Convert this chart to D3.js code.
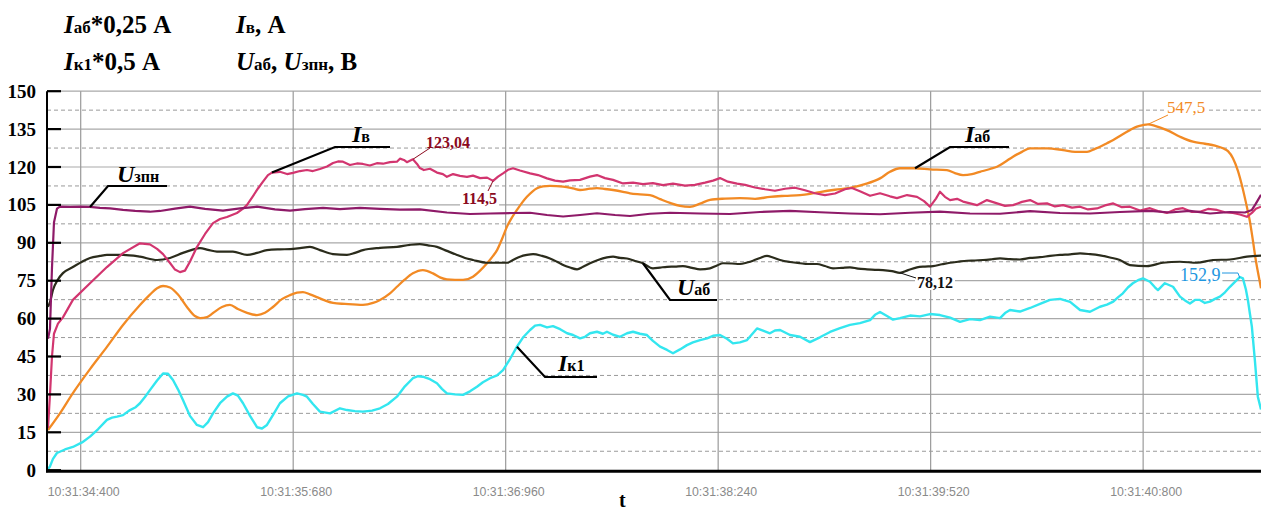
<!DOCTYPE html>
<html>
<head>
<meta charset="utf-8">
<script src="https://cdn.jsdelivr.net/npm/d3@7"></script>
<style>
  body { margin: 0; background: #fff; }
  svg { display: block; }
</style>
</head>
<body>
<svg id="chart" width="1261" height="512"></svg>
<script>
// Time in seconds after 10:31:00, values in chart units (A or V, scaled as the header says)
const tickTimes = [34.4, 35.68, 36.96, 38.24, 39.52, 40.8];
const tickLabels = ["10:31:34:400", "10:31:35:680", "10:31:36:960", "10:31:38:240", "10:31:39:520", "10:31:40:800"];
const yTicks = [0, 15, 30, 45, 60, 75, 90, 105, 120, 135, 150];

// U зпн, V
const uZpn = [
  [34.203,52],[34.215,56],[34.227,80],[34.239,98],[34.257,103.5],[34.275,104.3],[34.336,104.2],[34.396,104.3],
  [34.456,104.2],[34.516,103.8],[34.577,103.6],[34.655,103],[34.728,102.6],[34.817,102.3],[34.878,102.6],
  [34.968,103.5],[35.058,104.3],[35.149,103.4],[35.257,102.7],[35.360,103.6],[35.462,104.3],[35.570,103.2],
  [35.661,102.7],[35.751,103.3],[35.860,103.8],[35.962,103.3],[36.082,103.8],[36.203,103.4],[36.323,103.1],
  [36.443,103.2],[36.606,102],[36.745,101.4],[36.866,101.6],[37.004,101.8],[37.107,101.9],[37.209,101],
  [37.306,100.4],[37.408,101],[37.510,101.7],[37.619,101],[37.709,100.6],[37.829,101.5],[37.950,101.9],
  [38.131,101.6],[38.311,101.4],[38.492,102.2],[38.673,102.6],[38.853,102.1],[39.034,101.6],[39.215,101.3],
  [39.396,101.9],[39.576,102.3],[39.757,101.6],[39.938,101.5],[40.119,102.5],[40.299,101.8],[40.480,101.6],
  [40.660,102.2],[40.841,102.6],[40.961,102],[41.082,102.6],[41.203,101.6],[41.323,102.2],[41.413,102],
  [41.455,103],[41.479,105.5],[41.510,109]
];

// I в, A
const iV = [
  [34.203,16.7],[34.215,30],[34.227,45],[34.239,54],[34.263,58],[34.293,60.5],[34.353,67.4],[34.456,74],
  [34.558,80.4],[34.655,85.9],[34.757,89.8],[34.817,89.4],[34.860,87.6],[34.896,85.5],[34.938,82],[34.968,79.4],
  [34.998,78.4],[35.028,79],[35.058,82.5],[35.100,88.3],[35.149,93.5],[35.197,97.8],[35.239,99.4],[35.281,100.2],
  [35.341,101.8],[35.378,103.5],[35.402,105],[35.438,108.5],[35.468,111.5],[35.498,114.2],[35.528,116.8],
  [35.552,117.8],[35.600,118.1],[35.643,117.2],[35.679,117.7],[35.721,118.4],[35.763,118.8],[35.799,118.4],
  [35.841,119.2],[35.884,120.2],[35.920,121.6],[35.950,122.2],[35.980,122.1],[36.022,120.8],[36.064,121.4],
  [36.100,121.2],[36.142,120.6],[36.184,121.5],[36.221,121.3],[36.263,121.9],[36.305,122.1],[36.323,123.3],
  [36.347,122.8],[36.365,121.9],[36.401,123.04],[36.426,121.2],[36.443,119.6],[36.467,118.8],[36.504,119.3],
  [36.546,117.8],[36.582,117.2],[36.606,116.1],[36.643,117.2],[36.685,116.5],[36.727,116.1],[36.763,116.6],
  [36.806,115.6],[36.848,115.8],[36.884,114.5],[36.914,116.2],[36.944,117.5],[36.974,118.9],[37.004,119.5],
  [37.046,118.6],[37.107,117.5],[37.155,116.8],[37.209,115.5],[37.257,114.6],[37.306,114.2],[37.348,114.7],
  [37.408,114.9],[37.468,116.2],[37.510,116.8],[37.558,115.6],[37.607,114.9],[37.667,113.5],[37.727,113.8],
  [37.787,113.2],[37.847,113.6],[37.908,112.8],[37.968,113.4],[38.040,112.6],[38.100,112.9],[38.161,113.8],
  [38.209,114.6],[38.251,115.6],[38.299,114.2],[38.354,113.4],[38.402,112.9],[38.462,111.9],[38.522,111.2],
  [38.582,110.6],[38.643,111.4],[38.703,111.8],[38.763,110.8],[38.823,109.6],[38.883,108.9],[38.944,109.5],
  [39.004,111.2],[39.046,111.7],[39.094,110.4],[39.155,108.6],[39.215,109.6],[39.275,108.4],[39.317,107.7],
  [39.378,108.9],[39.438,108.2],[39.480,106.5],[39.516,104.3],[39.552,107.5],[39.576,110.2],[39.606,108.2],
  [39.637,106.9],[39.679,107.4],[39.715,106.3],[39.757,105.6],[39.799,104.9],[39.859,106.9],[39.920,105.6],
  [39.968,104.6],[40.016,104.9],[40.070,106.2],[40.119,106.9],[40.167,105.4],[40.221,105.6],[40.269,104.4],
  [40.318,104.9],[40.372,103.9],[40.420,104.3],[40.468,103.2],[40.522,103.6],[40.570,104.8],[40.620,105.6],
  [40.672,104.1],[40.720,104.3],[40.781,102.8],[40.841,103.7],[40.889,102.6],[40.943,101.8],[40.992,103.2],
  [41.040,103.7],[41.094,102.2],[41.142,102.3],[41.191,103.4],[41.245,103],[41.293,102.1],[41.341,101.8],
  [41.383,101.2],[41.425,100.3],[41.455,101.8],[41.479,103.5],[41.510,104.3]
];

// I аб × 0.25, A
const iAb = [
  [34.203,15.9],[34.275,22.5],[34.353,30.5],[34.456,40],[34.558,48.8],[34.655,57.5],[34.757,65.4],[34.817,69.5],
  [34.860,72],[34.896,72.9],[34.938,72.3],[34.986,69.5],[35.040,64.6],[35.088,61],[35.119,60.2],[35.161,60.6],
  [35.197,62.2],[35.251,64.6],[35.299,65.4],[35.347,63.8],[35.402,62.3],[35.462,61.4],[35.510,62.3],[35.558,64.6],
  [35.612,67.7],[35.661,69.3],[35.703,70.3],[35.739,70.5],[35.781,69.6],[35.823,68.5],[35.871,67.2],[35.920,66.2],
  [35.992,65.8],[36.100,65.4],[36.161,66.2],[36.203,67.4],[36.263,70],[36.305,72.6],[36.353,75.5],[36.401,77.9],
  [36.461,79.2],[36.522,77.9],[36.564,76.3],[36.606,75.5],[36.703,75.3],[36.763,76.6],[36.806,79],[36.848,81.9],
  [36.884,84.8],[36.908,87.1],[36.938,91.5],[36.968,96.4],[36.998,100],[37.028,103],[37.058,105.8],[37.088,108.2],
  [37.119,110.2],[37.149,111.6],[37.185,112.3],[37.227,112.5],[37.306,112.2],[37.366,111.5],[37.408,110.9],
  [37.468,111.4],[37.510,111.6],[37.558,111.3],[37.607,110.9],[37.667,110.2],[37.709,109.6],[37.769,109.2],
  [37.829,108.9],[37.890,107.3],[37.950,105.8],[38.010,104.6],[38.070,104.2],[38.131,105.5],[38.191,107],
  [38.281,107.5],[38.371,107.7],[38.462,107.4],[38.552,108.2],[38.643,108.6],[38.733,108.9],[38.793,109.4],
  [38.853,110.1],[38.944,111],[39.034,111.7],[39.124,113.2],[39.215,115.5],[39.275,118.1],[39.335,119.5],
  [39.426,119.5],[39.516,119.1],[39.618,118.8],[39.666,117.6],[39.715,116.8],[39.769,117.2],[39.817,118.1],
  [39.878,119.2],[39.920,120.1],[39.968,122],[40.016,124.1],[40.070,126],[40.119,127.4],[40.221,127.4],
  [40.318,126.7],[40.390,126],[40.462,126],[40.510,127.2],[40.540,128],[40.582,129.4],[40.620,130.7],
  [40.672,132.8],[40.720,134.6],[40.763,136],[40.799,136.6],[40.829,136.875],[40.871,136.3],[40.943,134.6],
  [41.022,132],[41.100,130],[41.172,129.2],[41.233,128.5],[41.281,127.4],[41.311,126.3],[41.341,123.5],
  [41.371,118.5],[41.395,112.8],[41.419,106],[41.443,98.5],[41.461,91],[41.479,83],[41.497,76.5],[41.510,72]
];

// U аб, V
const uAb = [
  [34.203,64.7],[34.215,66.5],[34.233,71.3],[34.263,75.5],[34.293,78],[34.353,80.4],[34.408,82.5],[34.456,84],
  [34.516,84.8],[34.558,85.2],[34.655,85.2],[34.757,84.5],[34.860,83.2],[34.938,84],[35.016,86],[35.070,87.2],
  [35.119,87.9],[35.167,87.2],[35.221,86.5],[35.317,86.5],[35.402,85.2],[35.462,86],[35.522,87.1],[35.600,87.4],
  [35.661,87.5],[35.721,87.9],[35.781,88.4],[35.841,87.1],[35.920,85.5],[36.004,85.2],[36.052,86],[36.100,87.1],
  [36.203,88],[36.305,88.4],[36.383,89.2],[36.443,89.5],[36.492,89],[36.546,88.4],[36.606,86.8],[36.667,85.2],
  [36.715,84],[36.763,83.2],[36.848,82.1],[36.926,82.1],[36.968,82.1],[37.004,83.2],[37.046,84.5],[37.088,85.2],
  [37.125,85.5],[37.179,84.8],[37.227,83.8],[37.269,82.5],[37.306,81.2],[37.348,80.2],[37.390,79.5],[37.426,80.5],
  [37.468,81.9],[37.516,83.2],[37.570,84.2],[37.607,84.5],[37.649,84],[37.691,83.8],[37.739,82.8],[37.787,81.9],
  [37.847,79.9],[37.890,80.2],[37.932,80.5],[37.980,80.6],[38.028,80.8],[38.082,80.1],[38.131,79.5],[38.191,79.9],
  [38.233,81],[38.269,81.9],[38.323,81.8],[38.371,81.6],[38.414,82.2],[38.450,82.9],[38.492,84],[38.534,84.8],
  [38.570,84.2],[38.613,83.2],[38.673,82.4],[38.733,81.9],[38.781,81.6],[38.835,81.6],[38.883,80.8],[38.932,79.9],
  [38.986,80.1],[39.034,80.3],[39.082,79.8],[39.137,79.5],[39.185,79.3],[39.233,79.2],[39.287,78.8],[39.335,78.12],
  [39.384,79.2],[39.438,80.3],[39.486,80.6],[39.534,80.8],[39.588,81.5],[39.637,82.1],[39.685,82.5],[39.739,82.9],
  [39.787,83],[39.835,83.2],[39.889,83.5],[39.938,83.8],[39.998,83.5],[40.058,83.4],[40.119,84],[40.179,84.3],
  [40.239,84.8],[40.299,85.2],[40.360,85.4],[40.420,85.8],[40.480,85.5],[40.540,85],[40.600,84.2],[40.660,83.2],
  [40.720,81.2],[40.823,80.8],[40.919,82.1],[41.022,82.5],[41.124,82.1],[41.221,83.2],[41.323,83.4],[41.425,84.5],
  [41.510,84.9]
];

// I к1 × 0.5, A
const iK1 = [
  [34.203,0.5],[34.215,1.5],[34.233,4.5],[34.257,6.8],[34.305,8.2],[34.353,9.2],[34.408,11],[34.456,13.3],
  [34.504,16.2],[34.558,19.9],[34.589,20.8],[34.619,21.2],[34.655,21.8],[34.697,23.8],[34.728,24.8],[34.757,26.5],
  [34.787,29],[34.817,31.7],[34.860,35.5],[34.896,38.3],[34.926,38.2],[34.956,35.7],[34.986,32],[35.016,27.8],
  [35.058,21.5],[35.100,17.9],[35.137,17],[35.167,19],[35.197,22.5],[35.239,26.5],[35.281,29.1],[35.317,30.4],
  [35.347,29.5],[35.378,26.5],[35.420,21.5],[35.462,17],[35.492,16.5],[35.522,17.9],[35.558,21.8],[35.600,26.5],
  [35.649,29.2],[35.703,30.4],[35.739,29.8],[35.763,29.1],[35.799,26.2],[35.841,23.2],[35.902,22.5],[35.962,24.5],
  [36.004,23.8],[36.052,23.4],[36.100,23.2],[36.155,23.6],[36.203,24.5],[36.251,26.2],[36.305,29.1],[36.353,33.2],
  [36.401,36.4],[36.432,37.2],[36.461,37],[36.504,36],[36.546,34.4],[36.576,32.2],[36.606,30.4],[36.655,30],
  [36.703,29.8],[36.745,31.2],[36.787,33],[36.823,34.8],[36.866,36.4],[36.908,37.5],[36.944,39.6],[36.986,44],
  [37.028,48.9],[37.064,52.5],[37.107,55.5],[37.137,57.2],[37.167,57.5],[37.209,56.5],[37.245,57],[37.288,55.8],
  [37.330,54.2],[37.366,53.5],[37.408,52.2],[37.438,52.8],[37.468,54.2],[37.510,54.8],[37.546,54],[37.570,54.8],
  [37.607,53.6],[37.649,52.8],[37.691,54.2],[37.727,54.8],[37.769,54],[37.811,53.5],[37.847,51.2],[37.890,48.9],
  [37.932,47.6],[37.968,46.3],[38.010,47.8],[38.052,49.5],[38.088,50.6],[38.131,51.5],[38.173,52.2],[38.209,53.2],
  [38.251,53.5],[38.293,52],[38.329,50.2],[38.371,50.6],[38.414,51.5],[38.444,53.8],[38.474,56.1],[38.510,55.2],
  [38.552,54.2],[38.582,55.3],[38.613,55.5],[38.673,53.5],[38.733,52.8],[38.793,50.7],[38.853,52.6],[38.914,54.7],
  [38.974,56.2],[39.034,57.5],[39.094,58.2],[39.155,59.4],[39.185,61.5],[39.215,62.6],[39.257,61],[39.293,59.6],
  [39.335,60.2],[39.396,61.2],[39.456,60.9],[39.516,61.8],[39.576,61.4],[39.637,60.4],[39.697,58.7],[39.757,59.8],
  [39.817,59.4],[39.878,60.8],[39.938,60.2],[39.968,62.2],[39.998,63.4],[40.058,62.8],[40.119,64.2],[40.179,65.8],
  [40.239,67.4],[40.299,67.8],[40.360,66.6],[40.420,63.4],[40.480,62.7],[40.540,64.7],[40.582,65.5],[40.620,66.7],
  [40.650,68.5],[40.678,70],[40.708,72.3],[40.738,74],[40.769,75.2],[40.799,75.9],[40.841,74.6],[40.871,72.4],
  [40.889,71.3],[40.931,74],[40.980,72.6],[41.022,68.7],[41.052,67.2],[41.082,66],[41.112,67.4],[41.142,67.4],
  [41.172,66.2],[41.203,66.7],[41.233,67.8],[41.263,68.7],[41.293,70.4],[41.323,72.6],[41.353,74.5],[41.383,76.45],
  [41.401,75.9],[41.419,71.5],[41.431,67.4],[41.443,62],[41.455,56.8],[41.473,43.6],[41.491,29.1],[41.510,24]
];

const svg = d3.select("#chart");
const W = 1261, H = 512;
const x = d3.scaleLinear().domain([34.2, 41.51]).range([47.5, W]);
const y = d3.scaleLinear().domain([0, 150]).range([470.2, 91.2]);

const serif = "'Liberation Serif', 'Times New Roman', serif";

// grid
const grid = svg.append("g");
grid.selectAll("line.hmaj").data(yTicks.filter(d => d > 0)).join("line")
  .attr("x1", 47).attr("x2", W).attr("y1", d => y(d)).attr("y2", d => y(d))
  .attr("stroke", "#a9a9a9").attr("stroke-width", 1.2);
grid.selectAll("line.hmin").data(d3.range(7.5, 150, 15)).join("line")
  .attr("x1", 47).attr("x2", W).attr("y1", d => y(d)).attr("y2", d => y(d))
  .attr("stroke", "#9a9a9a").attr("stroke-width", 1).attr("stroke-dasharray", "4,3");
grid.selectAll("line.v").data(tickTimes).join("line")
  .attr("x1", d => x(d)).attr("x2", d => x(d)).attr("y1", y(150)).attr("y2", y(0))
  .attr("stroke", "#9a9a9a").attr("stroke-width", 1.2);

// curves
svg.append("clipPath").attr("id", "plot").append("rect")
  .attr("x", 47).attr("y", 85).attr("width", W - 47).attr("height", y(0) - 85);
const plot = svg.append("g").attr("clip-path", "url(#plot)");

const series = [
  { data: iK1, color: "#33e6ef", curve: d3.curveLinear, w: 2.4 },
  { data: iAb, color: "#f28a24", curve: d3.curveMonotoneX, w: 2.3 },
  { data: uAb, color: "#2b2c1c", curve: d3.curveMonotoneX, w: 2.2 },
  { data: iV, color: "#d2356f", curve: d3.curveLinear, w: 2.2 },
  { data: uZpn, color: "#8e1a68", curve: d3.curveLinear, w: 2.2 }
];
series.forEach(s => {
  plot.append("path").datum(s.data)
    .attr("fill", "none").attr("stroke", s.color).attr("stroke-width", s.w)
    .attr("stroke-linejoin", "round")
    .attr("d", d3.line().x(d => x(d[0])).y(d => y(d[1])).curve(s.curve));
});

// axes
svg.append("line").attr("x1", 47).attr("x2", 47).attr("y1", y(150)).attr("y2", y(0) + 2)
  .attr("stroke", "#000").attr("stroke-width", 2);
svg.append("line").attr("x1", 46).attr("x2", W).attr("y1", y(0) + 1).attr("y2", y(0) + 1)
  .attr("stroke", "#000").attr("stroke-width", 3);
svg.selectAll("line.ytick").data(yTicks).join("line")
  .attr("x1", 47).attr("x2", 61).attr("y1", d => y(d)).attr("y2", d => y(d))
  .attr("stroke", "#000").attr("stroke-width", 2.2);
svg.selectAll("text.ylab").data(yTicks).join("text")
  .attr("x", 36).attr("y", d => y(d) + 6.5).attr("text-anchor", "end")
  .attr("font-family", serif).attr("font-weight", "bold").attr("font-size", 19)
  .attr("fill", "#000").text(d => d);
svg.selectAll("text.xlab").data(tickTimes).join("text")
  .attr("x", (d) => x(d) - 33).attr("y", 496)
  .attr("textLength", 72).attr("lengthAdjust", "spacingAndGlyphs")
  .attr("font-family", "'Liberation Sans Narrow', 'Liberation Sans', Arial, sans-serif")
  .attr("font-size", 13).attr("fill", "#8a8a8a")
  .text((d, i) => tickLabels[i]);
svg.append("text").attr("x", 619).attr("y", 507)
  .attr("font-family", serif).attr("font-weight", "bold").attr("font-size", 20).text("t");

// header: units
function symbol(g, px, py, letter, sub, rest, size, subSize) {
  const t = g.append("text").attr("x", px).attr("y", py)
    .attr("font-family", serif).attr("font-weight", "bold").attr("font-size", size).attr("fill", "#000");
  t.append("tspan").attr("font-style", "italic").text(letter);
  t.append("tspan").attr("font-size", subSize).text(sub);
  if (rest) t.append("tspan").text(rest);
  return t;
}
const head = svg.append("g");
symbol(head, 64, 33, "I", "аб", "*0,25 А", 25, 17);
symbol(head, 64, 70, "I", "к1", "*0,5 А", 25, 17);
symbol(head, 236, 33, "I", "в", ", А", 25, 17);
const h4 = head.append("text").attr("x", 236).attr("y", 70)
  .attr("font-family", serif).attr("font-weight", "bold").attr("font-size", 25);
h4.append("tspan").attr("font-style", "italic").text("U");
h4.append("tspan").attr("font-size", 17).text("аб");
h4.append("tspan").text(", ");
h4.append("tspan").attr("font-style", "italic").text("U");
h4.append("tspan").attr("font-size", 17).text("зпн");
h4.append("tspan").text(", В");

// curve name call-outs: anchor on a data point, elbow, horizontal shelf, name above the shelf
const callouts = [
  { letter: "I", sub: "в", at: iV[31], ex: 335, ey: 147, end: 390, tx: 352, ty: 142 },
  { letter: "U", sub: "зпн", at: uZpn[8], ex: 108, ey: 186, end: 167, tx: 117, ty: 182 },
  { letter: "I", sub: "аб", at: iAb[91], ex: 950, ey: 147, end: 1009, tx: 965, ty: 142 },
  { letter: "U", sub: "аб", at: uAb[63], ex: 670, ey: 300, end: 717, tx: 677, ty: 295 },
  { letter: "I", sub: "к1", at: iK1[72], ex: 545, ey: 377, end: 597, tx: 558, ty: 371 }
];
const co = svg.append("g");
callouts.forEach(c => {
  co.append("polyline")
    .attr("points", [[x(c.at[0]), y(c.at[1])], [c.ex, c.ey], [c.end, c.ey]].map(p => p.join(",")).join(" "))
    .attr("fill", "none").attr("stroke", "#000").attr("stroke-width", 2.2);
  symbol(co, c.tx, c.ty, c.letter, c.sub, null, 24, 16);
});

// value call-outs
const values = [
  { text: "123,04", at: [36.401, 123.04], lx: 430, ly: 148, tx: 426, ty: 148, color: "#8b0a1e", bold: true, size: 16, bg: false },
  { text: "114,5", at: [36.884, 114.5], lx: 488, ly: 191, tx: 462, ty: 204, color: "#8b0a1e", bold: true, size: 16, bg: true },
  { text: "547,5", at: [40.829, 547.5 * 0.25], lx: 1168, ly: 115, tx: 1167, ty: 113, color: "#f28a24", bold: false, size: 17, bg: true },
  { text: "78,12", at: [39.335, 78.12], lx: 916, ly: 278, tx: 917, ty: 288, color: "#111", bold: true, size: 16, bg: true },
  { text: "152,9", at: [41.383, 152.9 * 0.5], lx: 1222, ly: 273, tx: 1180, ty: 281, color: "#1e96e0", bold: false, size: 18, bg: true }
];
const vg = svg.append("g");
values.forEach(v => {
  const px = x(v.at[0]), py = y(v.at[1]);
  if (v.bg) {
    const t = vg.append("text").attr("x", v.tx).attr("y", v.ty)
      .attr("font-family", serif).attr("font-weight", v.bold ? "bold" : "normal")
      .attr("font-size", v.size).text(v.text);
    const bb = t.node().getBBox();
    t.remove();
    vg.append("rect").attr("x", bb.x - 2).attr("y", bb.y + 1).attr("width", bb.width + 4).attr("height", bb.height - 2)
      .attr("fill", "#fff");
  }
  if (v.text === "152,9") {
    vg.append("polyline").attr("points", `${v.lx},${v.ly} ${px - 2},${v.ly} ${px},${py + 1}`)
      .attr("fill", "none").attr("stroke", v.color).attr("stroke-width", 1);
  } else {
    vg.append("line").attr("x1", px).attr("y1", py).attr("x2", v.lx).attr("y2", v.ly)
      .attr("stroke", v.color).attr("stroke-width", 1);
  }
  vg.append("text").attr("x", v.tx).attr("y", v.ty)
    .attr("font-family", serif).attr("font-weight", v.bold ? "bold" : "normal")
    .attr("font-size", v.size).attr("fill", v.color).text(v.text);
});
</script>
</body>
</html>
